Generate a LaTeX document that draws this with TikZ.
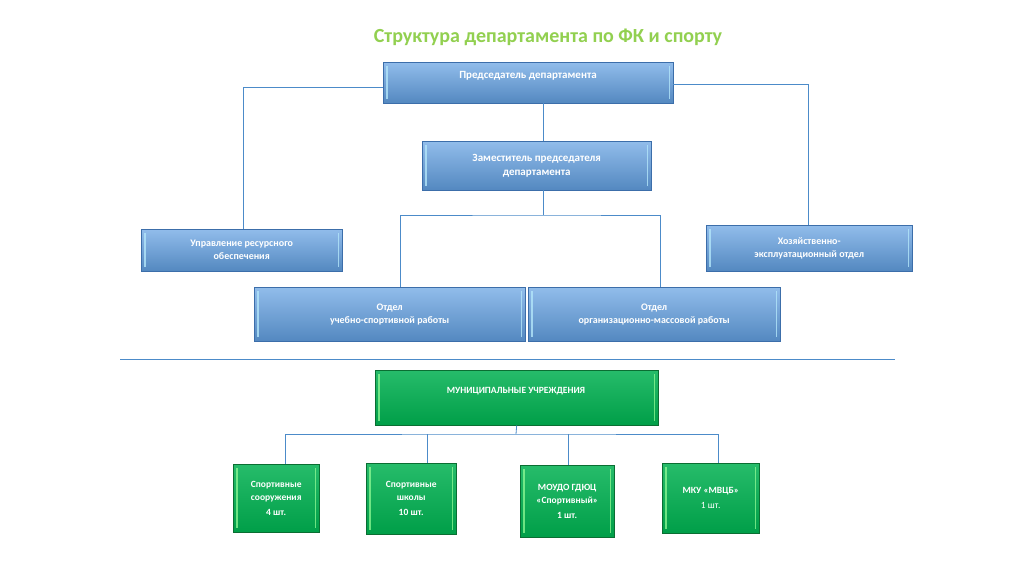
\documentclass[tikz,border=0pt]{standalone}
\usepackage{fontspec}
\setmainfont{Carlito}
\begin{document}
\begin{tikzpicture}[x=1pt,y=-1pt,
  bb/.style={draw=blue!40!black!70, top color=blue!25!cyan!35!white!90!blue, bottom color=blue!60!cyan!70!black!80, inner sep=0pt, text=white, font=\bfseries\fontsize{11}{14}\selectfont, align=center},
  gb/.style={draw=green!30!black, top color=green!60!black!75!cyan!90, bottom color=green!55!black, inner sep=0pt, text=white, font=\bfseries\fontsize{9.5}{13}\selectfont, align=center},
  ln/.style={draw=blue!50!cyan!70!black!70, line width=0.8pt}]
\useasboundingbox (0,0) rectangle (1022,572);
\fill[white] (0,0) rectangle (1022,572);
\definecolor{bfill}{RGB}{98,160,226}
\definecolor{bedge}{RGB}{60,110,170}
\definecolor{gfill}{RGB}{0,176,80}
\definecolor{gedge}{RGB}{10,110,50}
\tikzset{bb/.append style={top color=bfill!70!white, bottom color=bfill!85!black, draw=bedge},
         gb/.append style={top color=gfill!85!white, bottom color=gfill!90!black, draw=gedge}}
\node[font=\bfseries\fontsize{20}{24}\selectfont, text={rgb,255:red,146;green,208;blue,80}] (title) at (548,37) {Структура департамента по ФК и спорту};
\node[bb, minimum width=290, minimum height=41, anchor=north west] (ch) at (383,62) {};
\node[text=white, font=\bfseries\fontsize{11}{14}\selectfont] (cht) at (528,76) {Председатель департамента};
\node[bb, minimum width=229, minimum height=49, anchor=north west] (dep) at (422,141) {Заместитель председателя\\департамента};
\node[bb, minimum width=201, minimum height=42, anchor=north west, font=\bfseries\fontsize{10}{13}\selectfont] (res) at (141,229) {Управление ресурсного\\обеспечения};
\node[bb, minimum width=206, minimum height=46, anchor=north west, font=\bfseries\fontsize{10}{13}\selectfont] (hoz) at (706,225) {Хозяйственно-\\эксплуатационный отдел};
\node[bb, minimum width=271, minimum height=54, anchor=north west, font=\bfseries\fontsize{10}{13}\selectfont] (uch) at (254,287) {Отдел\\учебно-спортивной работы};
\node[bb, minimum width=252, minimum height=54, anchor=north west, font=\bfseries\fontsize{10}{13}\selectfont] (org) at (528,287) {Отдел\\организационно-массовой работы};
\coordinate (l1) at (120,359); \coordinate (l2) at (895,359);
\draw[ln] (l1) -- (l2);
\node[gb, minimum width=283, minimum height=55, anchor=north west] (mun) at (375,370) {};
\node[text=white, font=\bfseries\fontsize{9.5}{12}\selectfont] (munt) at (516,391) {МУНИЦИПАЛЬНЫЕ УЧРЕЖДЕНИЯ};
\node[gb, minimum width=86, minimum height=68, anchor=north west] (s1) at (233,464) {Спортивные\\сооружения\\[2pt]4 шт.};
\node[gb, minimum width=90, minimum height=71, anchor=north west] (s2) at (366,463) {Спортивные\\школы\\[2pt]10 шт.};
\node[gb, minimum width=94, minimum height=72, anchor=north west] (s3) at (520,465) {МОУДО ГДЮЦ\\«Спортивный»\\[2pt]1 шт.};
\node[gb, minimum width=97, minimum height=70, anchor=north west] (s4) at (662,463) {МКУ «МВЦБ»\\[2pt]{\mdseries 1 шт.}};
% bevels
\foreach \n in {ch,dep,res,hoz,uch,org}{
  \draw[white!70!cyan, line width=1.2pt, opacity=.8] ([shift={(4,4)}]\n.north west) -- ([shift={(4,-4)}]\n.south west);
  \draw[white!70!cyan, line width=1.2pt, opacity=.8] ([shift={(-4,4)}]\n.north east) -- ([shift={(-4,-4)}]\n.south east);}
\foreach \n in {mun,s1,s2,s3,s4}{
  \draw[green!40!white, line width=1.2pt, opacity=.7] ([shift={(4,4)}]\n.north west) -- ([shift={(4,-4)}]\n.south west);
  \draw[green!40!white, line width=1.2pt, opacity=.7] ([shift={(-4,4)}]\n.north east) -- ([shift={(-4,-4)}]\n.south east);}
% connectors
\draw[ln] (ch.west |- 0,87) -| (res.north -| 243,0);
\draw[ln] (ch.east |- 0,84) -| (hoz.north -| 808,0);
\draw[ln] (ch.south -| 543,0) -- (dep.north -| 543,0);
\draw[ln] (dep.south -| 543,0) -- (543,215) coordinate (dj);
\draw[ln] (uch.north -| 400,0) |- (dj) -| (org.north -| 660,0);
\draw[ln] (mun.south) -- (516,434) coordinate (mj);
\draw[ln] (s1.north -| 285,0) |- (mj) -| (s4.north -| 718,0);
\draw[ln] (s2.north -| 427,0) -- (427,434);
\draw[ln] (s3.north -| 568,0) -- (568,434);
\end{tikzpicture}
\end{document}
